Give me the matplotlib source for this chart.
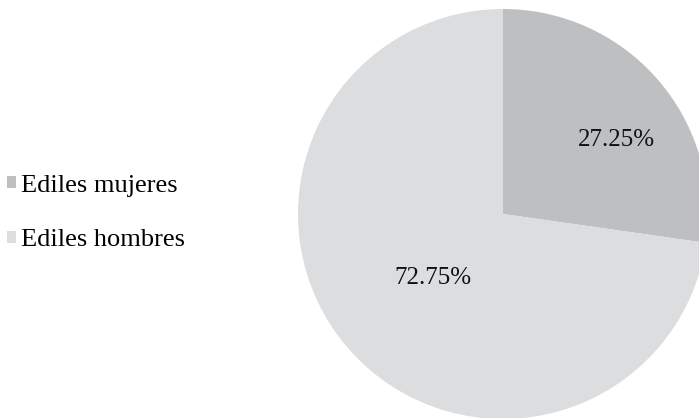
import matplotlib
matplotlib.use("Agg")
import matplotlib.pyplot as plt
import numpy as np

labels = ["Ediles mujeres", "Ediles hombres"]
values = [27.25, 72.75]
colors = ["#bebfc1", "#dcdddf"]
label_radius = [0.67, 0.455]
label_angle_shift = [-7, 0]

plt.rcParams['font.family'] = ['Liberation Serif', 'DejaVu Serif']

W, H = 699, 418
fig = plt.figure(figsize=(W / 100, H / 100), dpi=100)
cx, cy, r = 503, 214, 205
ax = fig.add_axes([(cx - r) / W, (H - cy - r) / H, 2 * r / W, 2 * r / H])
wedges, texts = ax.pie(values, colors=colors, startangle=90, counterclock=False,
                       radius=1, wedgeprops=dict(linewidth=0))
for w, v, lr, sh in zip(wedges, values, label_radius, label_angle_shift):
    ang = np.deg2rad((w.theta1 + w.theta2) / 2 + sh)
    ax.text(lr * np.cos(ang), lr * np.sin(ang), f"{v:.2f}%", ha='center',
            va='center_baseline', fontsize=18, color='#111111')
ax.set_xlim(-1, 1)
ax.set_ylim(-1, 1)
ax.set_aspect('equal')
ax.axis('off')

fig.legend(wedges, labels, loc='center left', bbox_to_anchor=(0.01, (H - 213) / H),
           frameon=False, fontsize=19, handlelength=0.33, handleheight=0.33,
           handletextpad=0.2, labelspacing=1.24, borderpad=0, borderaxespad=0)
fig.savefig("out.png", dpi=100)
